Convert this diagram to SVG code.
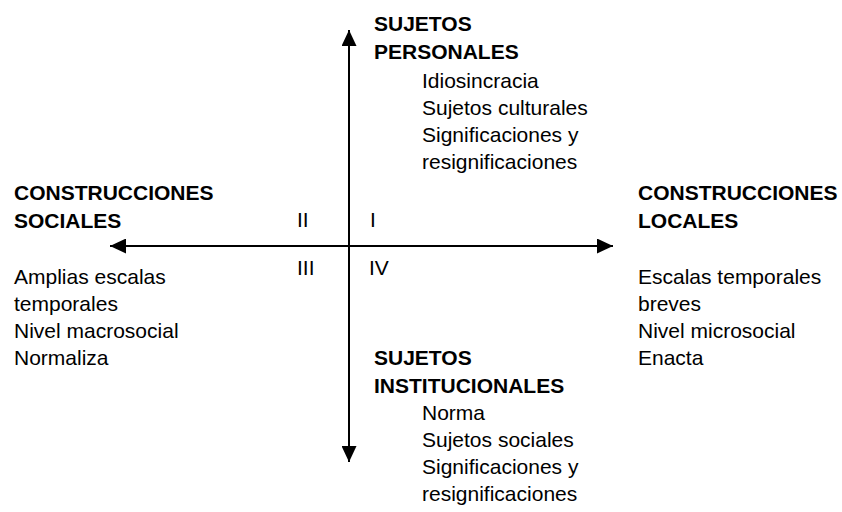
<svg xmlns="http://www.w3.org/2000/svg" width="842" height="512" viewBox="0 0 842 512">
<defs>
<style>
text{font-family:"Liberation Sans",Arial,sans-serif;font-size:21px;fill:#000}
.b{font-weight:bold}
.ax{stroke:#000;stroke-width:2;fill:none}
</style>
<marker id="ah" markerUnits="userSpaceOnUse" markerWidth="16" markerHeight="15" refX="16" refY="7.5" orient="auto" viewBox="0 0 16 15">
<path d="M0,0 L16,7.5 L0,15 z" fill="#000"/>
</marker>
</defs>
<rect width="842" height="512" fill="#fff"/>
<g id="connectors">
<line class="ax" x1="349" y1="246" x2="349" y2="30" marker-end="url(#ah)"/>
<line class="ax" x1="349" y1="246" x2="349" y2="462" marker-end="url(#ah)"/>
<line class="ax" x1="349" y1="246" x2="110" y2="246" marker-end="url(#ah)"/>
<line class="ax" x1="349" y1="246" x2="613" y2="246" marker-end="url(#ah)"/>
</g>
<g id="top">
<text class="b" x="374" y="31">SUJETOS</text>
<text class="b" x="374" y="59">PERSONALES</text>
<text x="422" y="88">Idiosincracia</text>
<text x="422" y="115">Sujetos culturales</text>
<text x="422" y="142">Significaciones y</text>
<text x="422" y="169">resignificaciones</text>
</g>
<g id="left">
<text class="b" x="14" y="200">CONSTRUCCIONES</text>
<text class="b" x="14" y="228">SOCIALES</text>
<text x="14" y="284">Amplias escalas</text>
<text x="14" y="311">temporales</text>
<text x="14" y="338">Nivel macrosocial</text>
<text x="14" y="365">Normaliza</text>
</g>
<g id="right">
<text class="b" x="638" y="200">CONSTRUCCIONES</text>
<text class="b" x="638" y="228">LOCALES</text>
<text x="638" y="284">Escalas temporales</text>
<text x="638" y="311">breves</text>
<text x="638" y="338">Nivel microsocial</text>
<text x="638" y="365">Enacta</text>
</g>
<g id="bottom">
<text class="b" x="374" y="365">SUJETOS</text>
<text class="b" x="374" y="393">INSTITUCIONALES</text>
<text x="422" y="420">Norma</text>
<text x="422" y="447">Sujetos sociales</text>
<text x="422" y="474">Significaciones y</text>
<text x="422" y="501">resignificaciones</text>
</g>
<g id="quadrants">
<text x="297" y="227">II</text>
<text x="370" y="227">I</text>
<text x="297" y="275">III</text>
<text x="369" y="275">IV</text>
</g>
</svg>
